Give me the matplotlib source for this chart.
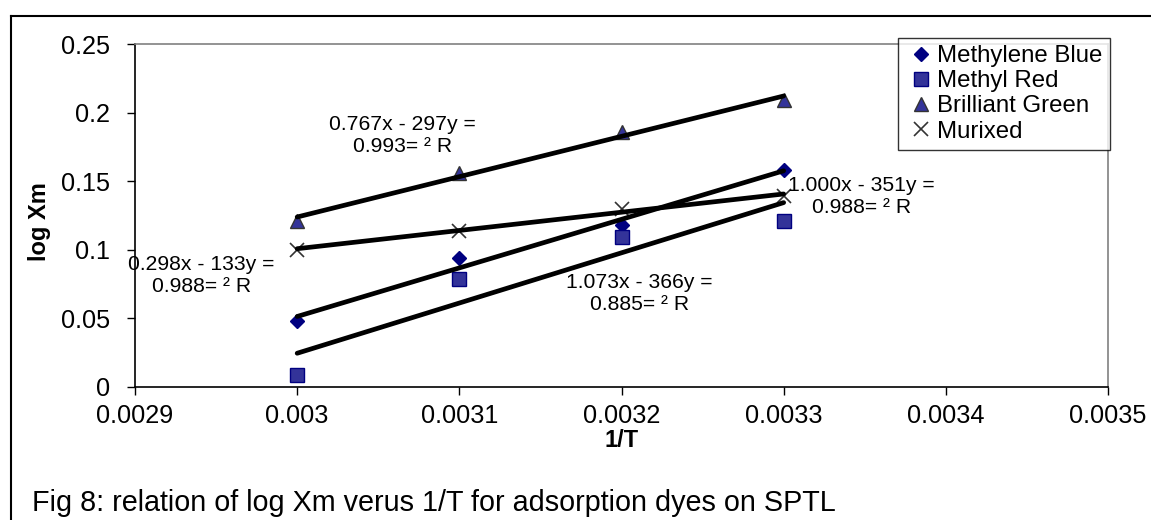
import matplotlib.pyplot as plt
from matplotlib.lines import Line2D
import numpy as np

plt.rcParams['font.family'] = ['Liberation Sans', 'DejaVu Sans']

# Data
inv_T = [0.0030, 0.0031, 0.0032, 0.0033]
methylene_blue = [0.048, 0.094, 0.118, 0.158]
methyl_red = [0.009, 0.079, 0.109, 0.121]
brilliant_green = [0.121, 0.156, 0.186, 0.209]
murixed = [0.100, 0.114, 0.130, 0.139]

# trendline equations as printed on the chart
eq_labels = [
    "0.767x - 297y =\n0.993= \u00b2 R",
    "1.073x - 366y =\n0.885= \u00b2 R",
    "1.000x - 351y =\n0.988= \u00b2 R",
    "0.298x - 133y =\n0.988= \u00b2 R",
]
eq_pos = [(0.003065, 0.183), (0.003211, 0.0685), (0.003348, 0.1385), (0.002941, 0.0816)]

x_ticks = [0.0029, 0.0030, 0.0031, 0.0032, 0.0033, 0.0034, 0.0035]
y_ticks = [0, 0.05, 0.1, 0.15, 0.2, 0.25]

fig = plt.figure(figsize=(11.51, 5.2), dpi=100)
ax = fig.add_axes([135 / 1151, 1 - 387 / 520, 973 / 1151, 343 / 520])

series = [
    ("Methylene Blue", methylene_blue, dict(marker="D", ms=7.5, mfc="#000080", mec="#000080")),
    ("Methyl Red", methyl_red, dict(marker="s", ms=10, mfc="#333399", mec="#000080", mew=1)),
    ("Brilliant Green", brilliant_green, dict(marker="^", ms=10, mfc="#333399", mec="#333333", mew=1)),
    ("Murixed", murixed, dict(marker="x", ms=10, mec="#333333", mew=1.2)),
]

x = np.array(inv_T)
for name, vals, style in series:
    ax.plot(inv_T, vals, linestyle="none", label=name, zorder=3, **style)
    # linear trendline
    k, b = np.polyfit(x, vals, 1)
    ax.plot(x, k * x + b, color="black", lw=3.4, solid_capstyle="round", zorder=4)

for txt, (tx, ty) in zip(eq_labels, eq_pos):
    ax.text(tx, ty, txt, ha="center", va="center", fontsize=15.2, linespacing=1.2, zorder=5)

ax.set_xlim(0.0029, 0.0035)
ax.set_ylim(0, 0.25)
ax.set_xticks(x_ticks)
ax.set_yticks(y_ticks)
ax.set_xticklabels([f"{round(v, 4):g}" for v in x_ticks])
ax.set_yticklabels([f"{v:g}" for v in y_ticks])
ax.tick_params(axis="both", direction="out", length=6, width=1, labelsize=18.2)
ax.tick_params(axis="x", pad=6)
ax.tick_params(axis="y", pad=12)

for side in ["left", "bottom"]:
    ax.spines[side].set_color("black")
    ax.spines[side].set_linewidth(1.2)
for side in ["top", "right"]:
    ax.spines[side].set_color("#808080")
    ax.spines[side].set_linewidth(1.2)

ax.set_xlabel("1/T", fontsize=17, fontweight="bold")
ax.set_ylabel("log Xm", fontsize=17, fontweight="bold")
ax.xaxis.set_label_coords(0.5, -0.122)
ax.yaxis.set_label_coords(-0.0866, 0.483)

leg = ax.legend(loc="upper right", bbox_to_anchor=(1110 / 1151, 1 - 38 / 520),
                bbox_transform=fig.transFigure, borderaxespad=0, fontsize=17.3,
                frameon=True, fancybox=False, handlelength=1.3, handletextpad=0.05,
                labelspacing=0.13, borderpad=0.3)
leg.get_frame().set_edgecolor("black")
leg.get_frame().set_linewidth(1)
leg.set_zorder(6)

# chart frame
fig.add_artist(Line2D([11 / 1151, 11 / 1151], [0, 1 - 16 / 520], color="black", lw=1.5))
fig.add_artist(Line2D([11 / 1151, 1], [1 - 16 / 520, 1 - 16 / 520], color="black", lw=1.5))

fig.text(32 / 1151, 1 - 503 / 520, "Fig 8: relation of log Xm verus 1/T for adsorption dyes on SPTL",
         fontsize=20.7, ha="left", va="center")

fig.savefig("out.png", dpi=100)
